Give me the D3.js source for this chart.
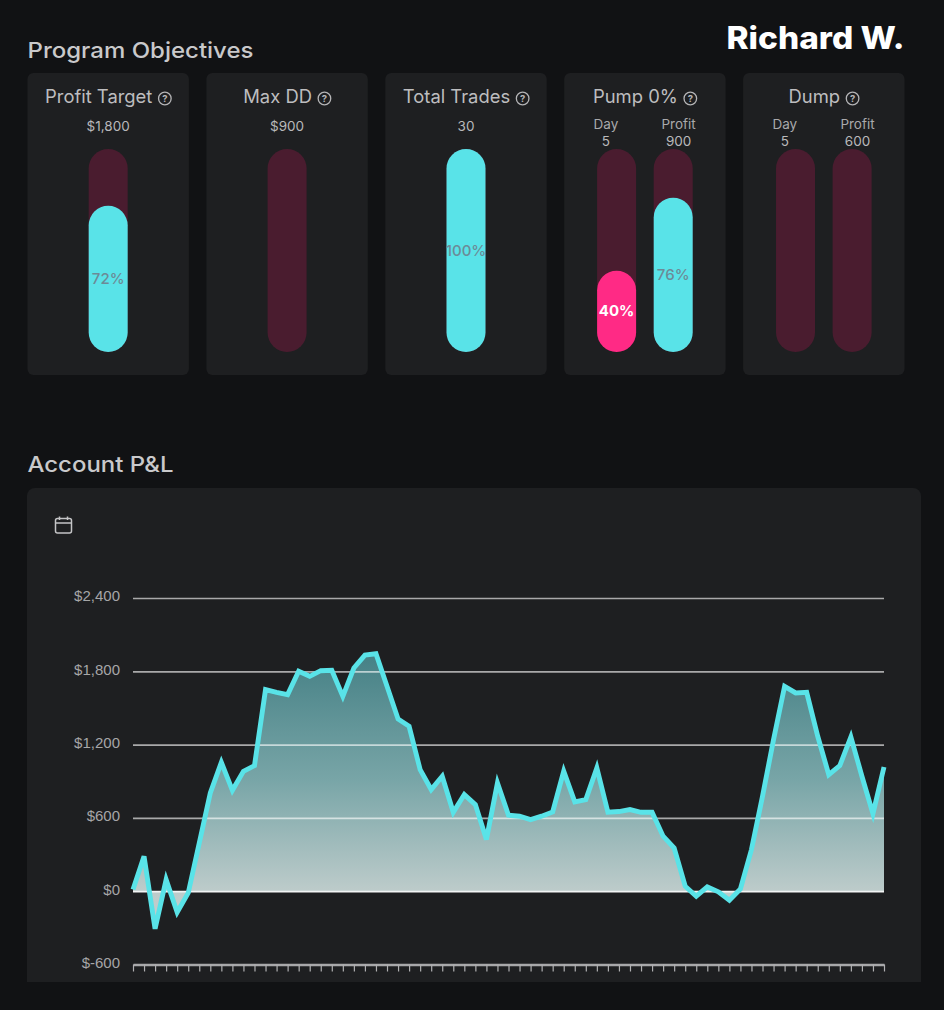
<!DOCTYPE html>
<html>
<head>
<meta charset="utf-8">
<script src="https://cdn.jsdelivr.net/npm/d3@7"></script>
<style>
  html, body { margin: 0; padding: 0; background: #111214; }
  svg { display: block; }
  text { font-family: Inter, "Open Sans", sans-serif; }
</style>
</head>
<body>
<svg id="plot"></svg>
<script>
// objective cards
const cardTitles = ["Profit Target", "Max DD", "Total Trades", "Pump 0%", "Dump"];
const barCards = ["Profit Target", "Max DD", "Total Trades", "Pump 0%", "Pump 0%", "Dump", "Dump"];
const barCaptions = ["", "", "", "Day", "Profit", "Day", "Profit"];
const barTargets = ["$1,800", "$900", "30", "5", "900", "5", "600"];
const barPercents = [72, 0, 100, 40, 76, 0, 0];

// account p&l, one value per tick
const pnlValues = [
  14, 286, -308, 95, -172, -14, 395, 805, 1055, 826, 982, 1028, 1650, 1628, 1609, 1800, 1759,
  1805, 1808, 1595, 1827, 1933, 1944, 1677, 1410, 1350, 995, 832, 941, 646, 791, 709, 423, 886,
  622, 614, 586, 614, 649, 982, 731, 750, 1009, 646, 652, 668, 646, 646, 450, 354, 41, -41,
  35, -5, -74, 19, 341, 777, 1241, 1677, 1623, 1628, 1268, 954, 1028, 1263, 941, 635, 1017
];
const pnlTicks = [-600, 0, 600, 1200, 1800, 2400];

const width = 944;
const height = 1010;
const cyan = "#59e3e8";
const track = "#4a1c2f";
const cardBg = "#1e1f21";

const svg = d3.select("#plot").attr("width", width).attr("height", height);

svg.append("rect").attr("width", width).attr("height", height).attr("fill", "#111214");

svg.append("text")
  .attr("x", 27.5).attr("y", 58)
  .attr("font-size", 22).attr("font-weight", 500).attr("fill", "#c9c9cb")
  .attr("textLength", 226).attr("lengthAdjust", "spacingAndGlyphs")
  .text("Program Objectives");

svg.append("text")
  .attr("x", 904.5).attr("y", 48.5).attr("text-anchor", "end")
  .attr("font-size", 31).attr("font-weight", 800).attr("fill", "#ffffff")
  .attr("textLength", 178).attr("lengthAdjust", "spacingAndGlyphs")
  .text("Richard W.");

svg.append("text")
  .attr("x", 27.5).attr("y", 472)
  .attr("font-size", 22).attr("font-weight", 500).attr("fill", "#c9c9cb")
  .attr("textLength", 146).attr("lengthAdjust", "spacingAndGlyphs")
  .text("Account P&L");

// ---- cards ----
const cardScale = d3.scaleBand().domain(cardTitles).range([27.5, 904.5]).paddingInner(0.098);
const cardCenter = t => cardScale(t) + cardScale.bandwidth() / 2;
const barScale = d3.scaleLinear().domain([0, 100]).range([0, 203]);
const barTop = 149;
const barWidth = 39;

const cards = svg.selectAll("g.card").data(cardTitles).enter().append("g").attr("class", "card");

cards.append("rect")
  .attr("x", d => cardScale(d)).attr("y", 73)
  .attr("width", cardScale.bandwidth()).attr("height", 302)
  .attr("rx", 6).attr("fill", cardBg);

cards.each(function (d) {
  let g = d3.select(this);
  let label = g.append("text")
    .attr("y", 103)
    .attr("font-size", 18.4).attr("fill", "#bdbdbf")
    .text(d);
  let w = label.node().getComputedTextLength();
  let start = cardCenter(d) - (w + 19) / 2;
  label.attr("x", start);

  // help icon
  let cx = start + w + 12.5;
  g.append("circle")
    .attr("cx", cx).attr("cy", 98.5).attr("r", 6.3)
    .attr("fill", "none").attr("stroke", "#b5b5b7").attr("stroke-width", 1.3);
  g.append("text")
    .attr("x", cx).attr("y", 102)
    .attr("text-anchor", "middle")
    .attr("font-size", 9.5).attr("font-weight", 700).attr("fill", "#b5b5b7")
    .text("?");
});

// bars, paired ones sit either side of the card centre
const bars = barCards.map((card, i) => {
  let paired = barCaptions[i] !== "";
  let side = barCaptions[i] === "Day" ? -1 : 1;
  return {
    card: card,
    caption: barCaptions[i],
    target: barTargets[i],
    pct: barPercents[i],
    cx: cardCenter(card) + (paired ? side * 28.3 : 0),
    labelX: cardCenter(card) + (paired ? (side < 0 ? -39 : 33.7) : 0),
    paired: paired
  };
});

let barG = svg.selectAll("g.bar").data(bars).enter().append("g").attr("class", "bar");

barG.append("rect")
  .attr("x", d => d.cx - barWidth / 2).attr("y", barTop)
  .attr("width", barWidth).attr("height", barScale(100))
  .attr("rx", barWidth / 2).attr("fill", track);

barG.filter(d => d.pct > 0).append("rect")
  .attr("x", d => d.cx - barWidth / 2)
  .attr("y", d => barTop + barScale(100) - barScale(d.pct))
  .attr("width", barWidth)
  .attr("height", d => barScale(d.pct))
  .attr("rx", barWidth / 2)
  .attr("fill", d => d.caption === "Day" ? "#ff2a85" : cyan);

barG.filter(d => d.pct > 0).append("text")
  .attr("x", d => d.cx)
  .attr("y", d => barTop + barScale(100) - barScale(d.pct) / 2 + 5)
  .attr("text-anchor", "middle")
  .attr("font-size", 15)
  .attr("font-weight", d => d.caption === "Day" ? 700 : 500)
  .attr("fill", d => d.caption === "Day" ? "#ffffff" : "#6c8b97")
  .text(d => d.pct + "%");

barG.filter(d => d.paired).append("text")
  .attr("x", d => d.labelX).attr("y", 129)
  .attr("text-anchor", "middle")
  .attr("font-size", 13.5).attr("fill", "#a9a9ab")
  .text(d => d.caption);

barG.append("text")
  .attr("x", d => d.labelX)
  .attr("y", d => d.paired ? 146 : 131)
  .attr("text-anchor", "middle")
  .attr("font-size", 13.5).attr("fill", "#b9b9bb")
  .text(d => d.target);

// ---- account p&l panel ----
svg.append("path")
  .attr("d", "M27 982V496a8 8 0 0 1 8-8H913a8 8 0 0 1 8 8V982Z")
  .attr("fill", cardBg);

// calendar icon
let cal = svg.append("g")
  .attr("transform", "translate(55,516)")
  .attr("fill", "none").attr("stroke", "#c4c4c6").attr("stroke-width", 1.5);
cal.append("rect").attr("x", 0.5).attr("y", 2.5).attr("width", 16).attr("height", 14.5).attr("rx", 2);
cal.append("path").attr("d", "M0.5 7H16.5M4.5 0.5V4M12.5 0.5V4");

const x = d3.scaleLinear().domain([0, pnlValues.length - 1]).range([133, 884]);
const y = d3.scaleLinear().domain([-600, 2400]).range([964.5, 598]);

// area shade
let defs = svg.append("defs");
let grad = defs.append("linearGradient")
  .attr("id", "pnlFill")
  .attr("gradientUnits", "userSpaceOnUse")
  .attr("x1", 0).attr("x2", 0)
  .attr("y1", y(1950)).attr("y2", y(-300));
grad.append("stop").attr("offset", "0%").attr("stop-color", "#458085");
grad.append("stop").attr("offset", "46%").attr("stop-color", "#78a5a7");
grad.append("stop").attr("offset", "86%").attr("stop-color", "#bccbca");
grad.append("stop").attr("offset", "100%").attr("stop-color", "#c9cccc");

let area = d3.area()
  .x((d, i) => x(i))
  .y0(y(0))
  .y1(d => y(d));

let line = d3.line()
  .x((d, i) => x(i))
  .y(d => y(d));

svg.append("path")
  .datum(pnlValues)
  .attr("d", area)
  .attr("fill", "url(#pnlFill)");

// gridlines and y labels
let yAxis = svg.append("g")
  .attr("transform", "translate(133,0)")
  .call(d3.axisLeft(y)
    .tickValues(pnlTicks)
    .tickSize(0)
    .tickPadding(13)
    .tickFormat(d => "$" + (d < 0 ? "-" : "") + d3.format(",")(Math.abs(d))));

yAxis.select(".domain").remove();
yAxis.selectAll("text")
  .style("font-family", '"Liberation Sans", Arial, sans-serif')
  .style("font-size", "15px")
  .attr("y", -2)
  .attr("fill", "#a6a6a8");

yAxis.selectAll(".tick")
  .filter(d => d > -600)
  .append("line")
  .attr("x1", 0).attr("x2", 751)
  .attr("stroke", d => d === 0 ? "#f2f4f4" : "rgba(255,255,255,0.62)")
  .attr("stroke-width", 1.7);

// x axis has ticks only, no labels
let xAxis = svg.append("g")
  .attr("transform", `translate(0,${y(-600)})`)
  .call(d3.axisBottom(x)
    .tickValues(d3.range(pnlValues.length))
    .tickSizeInner(7)
    .tickSizeOuter(0)
    .tickFormat(""));

xAxis.select(".domain").attr("stroke", "#a8a8aa").attr("stroke-width", 2.4);
xAxis.selectAll(".tick line").attr("stroke", "#b0b0b2").attr("stroke-width", 1.2);

svg.append("path")
  .datum(pnlValues)
  .attr("d", line)
  .attr("fill", "none")
  .attr("stroke", cyan)
  .attr("stroke-width", 4.9)
  .attr("stroke-linejoin", "miter");
</script>
</body>
</html>
